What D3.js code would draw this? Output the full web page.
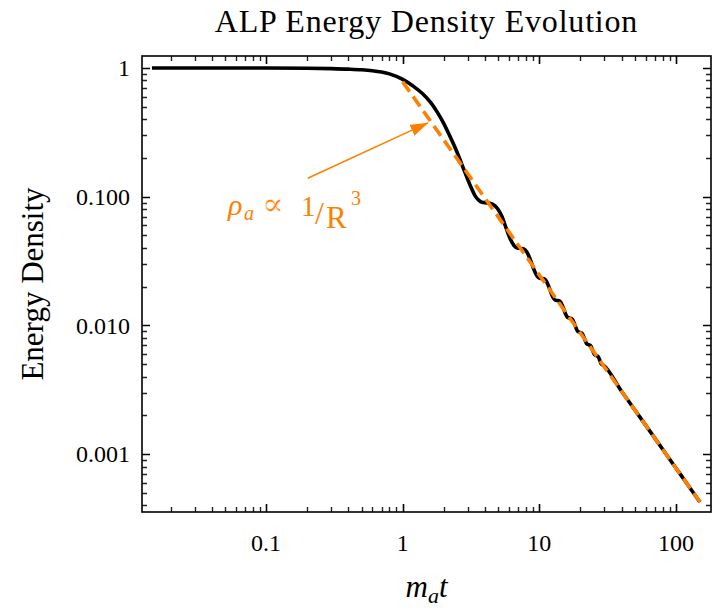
<!DOCTYPE html>
<html>
<head>
<meta charset="utf-8">
<script src="https://cdn.jsdelivr.net/npm/d3@7"></script>
<style>
  body { margin: 0; background: #fff; }
  text { font-family: "Liberation Serif", "DejaVu Serif", serif; fill: #000; }
</style>
</head>
<body>
<svg id="chart" width="720" height="608"></svg>
<script>
// ALP energy density vs m_a t
var timeVals = [0.0146, 0.05, 0.1, 0.2, 0.3, 0.4, 0.5, 0.6, 0.7, 0.8, 0.9, 1.0,
  1.2, 1.4, 1.6, 1.8, 2.0, 2.2, 2.4, 2.6, 2.8, 3.0, 3.2, 3.4, 3.6, 3.8,
  4.15, 4.54, 4.94, 5.33, 5.72, 6.11, 6.51, 6.9, 7.29, 7.69, 8.08, 8.47,
  8.86, 9.26, 9.65, 10.04, 10.43, 10.83, 11.22, 11.61, 12.0, 12.4, 12.79,
  13.18, 13.58, 13.97, 14.36, 14.75, 15.15, 15.54, 15.93, 16.33, 16.72,
  17.5, 18.29, 19.07, 19.86, 20.65, 21.43, 22.22, 23.0, 23.79, 24.57,
  25.36, 26.14, 26.93, 27.72, 28.5, 29.29, 40, 60, 80, 100, 125, 150];
var densityVals = [1.0, 1.0, 0.999, 0.995, 0.988, 0.979, 0.968, 0.952, 0.93, 0.9, 0.86, 0.815,
  0.72, 0.63, 0.54, 0.45, 0.37, 0.30, 0.245, 0.20, 0.163, 0.135, 0.115, 0.101, 0.094, 0.0905,
  0.0895, 0.0875, 0.081, 0.0701, 0.057, 0.0473, 0.0419, 0.0399, 0.0396, 0.0392, 0.0373, 0.0337,
  0.0296, 0.0262, 0.0241, 0.02325, 0.02315, 0.0230, 0.0222, 0.0206, 0.01875, 0.0171, 0.0161,
  0.01565, 0.01559, 0.01552, 0.0151, 0.01427, 0.01323, 0.0123, 0.0117, 0.01145, 0.01141,
  0.01112, 0.00997, 0.0090, 0.00881, 0.00862, 0.00786, 0.0072, 0.00707, 0.00694, 0.0064,
  0.00593, 0.00583, 0.00574, 0.00535, 0.0050, 0.00492, 0.00308, 0.00168, 0.00109, 0.00078,
  0.000558, 0.000424];

// dashed rho ~ 1/R^3 guide
var guideTime = [1, 150];
var guideDensity = [0.78, 0.000424];

// annotation: arrow tail -> tip, and label anchor
var arrowTime = [0.2017, 1.54];
var arrowDensity = [0.139, 0.376];
var labelTime = 0.0526;
var labelDensity = 0.072;

var xTickVals = [0.1, 1, 10, 100];
var xTickLabels = ["0.1", "1", "10", "100"];
var yTickVals = [1, 0.1, 0.01, 0.001];
var yTickLabels = ["1", "0.100", "0.010", "0.001"];

var orange = "#ff8000";

var margin = { top: 56, right: 9, bottom: 96, left: 142 };
var width = 720 - margin.left - margin.right;
var height = 608 - margin.top - margin.bottom;

var svg = d3.select("#chart");
var g = svg.append("g").attr("transform", "translate(" + margin.left + "," + margin.top + ")");

var x = d3.scaleLog().domain([Math.pow(10, -1.9085), Math.pow(10, 2.257)]).range([0, width]);
var y = d3.scaleLog().domain([Math.pow(10, -3.45), Math.pow(10, 0.093)]).range([height, 0]);

// minor tick positions 2..9 x 10^k inside the domain
function minors(scale) {
  var d = scale.domain(), out = [];
  for (var k = -4; k <= 3; k++) {
    for (var m = 2; m <= 9; m++) {
      var v = m * Math.pow(10, k);
      if (v > d[0] && v < d[1]) out.push(v);
    }
  }
  return out;
}

// inward ticks on all four sides, drawn as one path per set
function tickPath(xs, ys, len) {
  var p = d3.path();
  xs.forEach(function(v) {
    var px = Math.round(x(v)) + 0.5;
    p.moveTo(px, height); p.lineTo(px, height - len);
    p.moveTo(px, 0); p.lineTo(px, len);
  });
  ys.forEach(function(v) {
    var py = Math.round(y(v)) + 0.5;
    p.moveTo(0, py); p.lineTo(len, py);
    p.moveTo(width, py); p.lineTo(width - len, py);
  });
  return p.toString();
}

g.append("path")
  .attr("d", tickPath(minors(x), minors(y), 5))
  .attr("fill", "none")
  .attr("stroke", "#222")
  .attr("stroke-width", 1.4);

g.append("path")
  .attr("d", tickPath(xTickVals, yTickVals, 8))
  .attr("fill", "none")
  .attr("stroke", "#000")
  .attr("stroke-width", 1.6);

// tick labels
g.selectAll(".xlab")
  .data(xTickVals)
  .enter()
  .append("text")
  .attr("class", "xlab")
  .attr("x", function(d) { return x(d); })
  .attr("y", height + 39)
  .attr("text-anchor", "middle")
  .style("font-size", "24px")
  .text(function(d, i) { return xTickLabels[i]; });

g.selectAll(".ylab")
  .data(yTickVals)
  .enter()
  .append("text")
  .attr("class", "ylab")
  .attr("x", -12)
  .attr("y", function(d) { return y(d); })
  .attr("dy", "0.34em")
  .attr("text-anchor", "end")
  .style("font-size", "24px")
  .text(function(d, i) { return yTickLabels[i]; });

// frame
g.append("rect")
  .attr("width", width)
  .attr("height", height)
  .attr("fill", "none")
  .attr("stroke", "#000")
  .attr("stroke-width", 1.6);

var line = d3.line()
  .x(function(d) { return x(d[0]); })
  .y(function(d) { return y(d[1]); })
  .curve(d3.curveMonotoneX);

var solid = d3.zip(timeVals, densityVals);
var guide = d3.zip(guideTime, guideDensity);

g.append("path")
  .datum(solid)
  .attr("d", line)
  .attr("fill", "none")
  .attr("stroke", "#000")
  .attr("stroke-width", 3.6)
  .attr("stroke-linejoin", "round");

g.append("path")
  .datum(guide)
  .attr("d", d3.line().x(function(d) { return x(d[0]); }).y(function(d) { return y(d[1]); }))
  .attr("fill", "none")
  .attr("stroke", orange)
  .attr("stroke-width", 3.6)
  .attr("stroke-dasharray", "12,6");

// arrow
svg.append("defs").append("marker")
  .attr("id", "head")
  .attr("viewBox", "0 0 18 12")
  .attr("refX", 18)
  .attr("refY", 6)
  .attr("markerWidth", 18)
  .attr("markerHeight", 12)
  .attr("markerUnits", "userSpaceOnUse")
  .attr("orient", "auto")
  .append("path")
  .attr("d", "M0,0 L18,6 L0,12 Z")
  .attr("fill", orange);

g.append("line")
  .attr("x1", x(arrowTime[0]))
  .attr("y1", y(arrowDensity[0]))
  .attr("x2", x(arrowTime[1]))
  .attr("y2", y(arrowDensity[1]))
  .attr("stroke", orange)
  .attr("stroke-width", 1.6)
  .attr("marker-end", "url(#head)");

// label  rho_a ∝ 1/R^3
var lab = g.append("g")
  .attr("transform", "translate(" + x(labelTime) + "," + y(labelDensity) + ")");
function piece(txt, dx, dy, size, italic, family) {
  return lab.append("text")
    .attr("x", dx)
    .attr("y", dy)
    .style("font-size", size + "px")
    .style("font-style", italic ? "italic" : "normal")
    .style("font-family", family || null)
    .style("fill", orange)
    .text(txt);
}
piece("ρ", 0, 0, 30, true);
piece("a", 16, 5, 20, true);
// the fallback glyph is heavy; a faint white outline thins it slightly
piece("∝", 34, 0, 32, false, "DejaVu Serif")
  .style("stroke", "#fff")
  .style("stroke-width", 0.45);
piece("1", 73, 1, 29, false);
piece("/", 87, 9, 32, false);
piece("R", 98, 13, 31, false);
piece("3", 123, -10, 20, false);

// titles
svg.append("text")
  .attr("x", margin.left + width / 2)
  .attr("y", 32)
  .attr("text-anchor", "middle")
  .style("font-size", "32px")
  .style("letter-spacing", "0.8px")
  .text("ALP Energy Density Evolution");

svg.append("text")
  .attr("transform", "translate(43," + (margin.top + height / 2) + ") rotate(-90)")
  .attr("text-anchor", "middle")
  .style("font-size", "31px")
  .text("Energy Density");

var xt = svg.append("text")
  .attr("x", margin.left + width / 2)
  .attr("y", 597)
  .attr("text-anchor", "middle")
  .style("font-size", "31px");
xt.append("tspan").style("font-style", "italic").text("m");
xt.append("tspan").style("font-style", "italic").style("font-size", "22px").attr("dy", 6).text("a");
xt.append("tspan").style("font-style", "italic").attr("dy", -6).text("t");
</script>
</body>
</html>
